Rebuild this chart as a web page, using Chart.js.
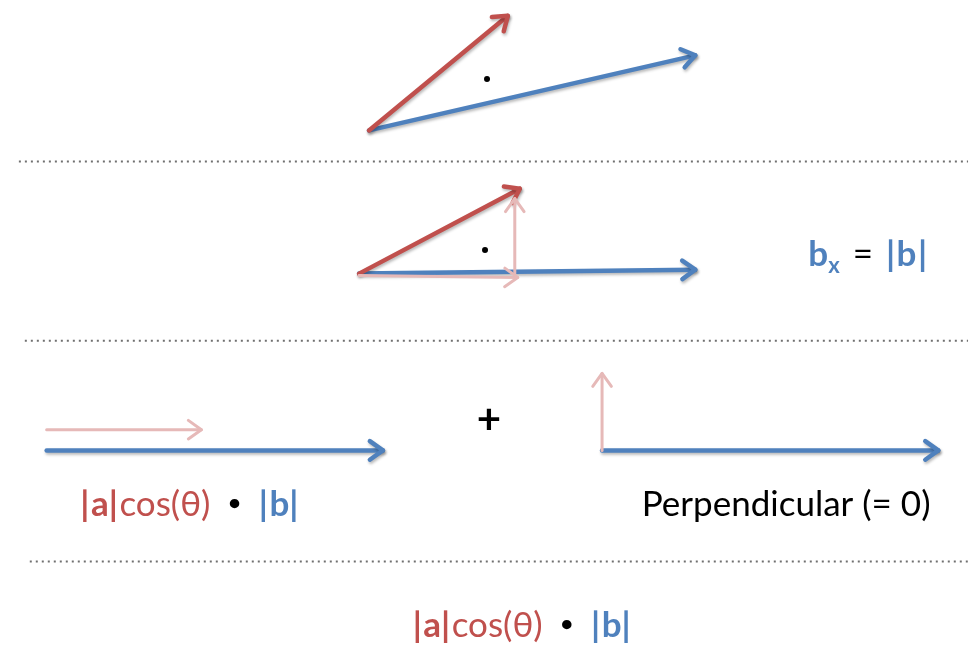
<!DOCTYPE html>
<html><head><meta charset="utf-8">
<script src="https://cdn.jsdelivr.net/npm/chart.js@4.4.1/dist/chart.umd.min.js"></script>
<style>html,body{margin:0;padding:0;background:#fff}#wrap{width:977px;height:647px;position:relative}</style>
</head><body><div id="wrap"><canvas id="c"></canvas></div>
<script>
// ---- data (diagram space: x right, y down, same extent as the picture) ----
const vecTopA      = [{x:368,y:128},{x:508,y:12}];
const vecTopB      = [{x:368,y:128},{x:697,y:52}];
const vecMidApar   = [{x:358,y:275},{x:518,y:277}];
const vecMidAperp  = [{x:515,y:275},{x:515,y:197}];
const vecMidA      = [{x:358,y:273},{x:520,y:187}];
const vecMidB      = [{x:358,y:273},{x:697,y:269}];
const vecLeftApar  = [{x:43,y:431},{x:199,y:431}];
const vecLeftB     = [{x:43,y:452},{x:382,y:452}];
const vecRightAperp= [{x:603,y:452},{x:603,y:374}];
const vecRightB    = [{x:603,y:452},{x:942,y:452}];
const anglePoints  = [{x:487,y:76},{x:485,y:249}];
const separators   = [[{x:15,y:159.5},{x:972,y:159.5}],[{x:21,y:341},{x:972,y:341}],[{x:26,y:564.5},{x:975,y:564.5}]];
const formula      = [['|','a',true],['a','a',true],['|','a',true],['cos(θ)','a',false],['  ','k',false],['•','k',true,0.62],['  ','k',false],['|','b',true],['b','b',true],['|','b',true]];
const perpLabel    = 'Perpendicular (= 0)';
const plusLabel    = '+';

// ---- styles ----
const RED='#c0504d', BLUE='#4f81bd', PINK='#e6b9b8', GREY='#707070';
const roleColor={a:RED,b:BLUE,k:'#000'};
const FONT='Lato, "Open Sans", "DejaVu Sans", sans-serif';

function arrow(data,color,w,shadow){
  return {data,showLine:true,borderColor:color,backgroundColor:color,borderWidth:w,pointRadius:0,
    borderCapStyle:'round',arrow:true,shadow:shadow,headLen:16};
}
const datasets=[];
separators.forEach(s=>datasets.push({data:s,showLine:true,borderColor:GREY,borderWidth:2,borderDash:[2,4],pointRadius:0}));
datasets.push(arrow(vecTopA,RED,4.5,true));
datasets.push(arrow(vecTopB,BLUE,4.5,true));
datasets.push(arrow(vecMidApar,PINK,3,false));
datasets.push(arrow(vecMidAperp,PINK,3,false));
datasets.push(arrow(vecMidA,RED,4.5,true));
datasets.push(arrow(vecMidB,BLUE,4.5,true));
datasets.push(arrow(vecLeftApar,PINK,3,false));
datasets.push(arrow(vecLeftB,BLUE,4.5,true));
datasets.push(arrow(vecRightAperp,PINK,3,false));
datasets.push(arrow(vecRightB,BLUE,4.5,true));
datasets.push({data:anglePoints,showLine:false,pointRadius:3,pointBackgroundColor:'#000',pointBorderWidth:0});

const arrowPlugin={
  id:'arrows',
  beforeDatasetDraw(chart,args){
    const ds=chart.data.datasets[args.index];const ctx=chart.ctx;ctx.save();
    if(ds.shadow){ctx.shadowColor='rgba(0,0,0,0.28)';ctx.shadowBlur=3;ctx.shadowOffsetX=1;ctx.shadowOffsetY=2;}
  },
  afterDatasetDraw(chart,args){
    const ds=chart.data.datasets[args.index];const ctx=chart.ctx;
    if(ds.arrow){
      const pts=args.meta.data;const p0=pts[pts.length-2],p1=pts[pts.length-1];
      const ang=Math.atan2(p1.y-p0.y,p1.x-p0.x);const L=ds.headLen,s=0.62;
      ctx.strokeStyle=ds.borderColor;ctx.lineWidth=ds.borderWidth;ctx.lineCap='round';ctx.lineJoin='round';
      ctx.beginPath();
      ctx.moveTo(p1.x-L*Math.cos(ang-s),p1.y-L*Math.sin(ang-s));
      ctx.lineTo(p1.x,p1.y);
      ctx.lineTo(p1.x-L*Math.cos(ang+s),p1.y-L*Math.sin(ang+s));
      ctx.stroke();
    }
    ctx.restore();
  }
};

function drawRich(ctx,segs,x,y,size){
  ctx.textBaseline='alphabetic';ctx.textAlign='left';
  segs.forEach(([t,role,bold,scale])=>{
    const sz=size*(scale||1);
    ctx.font=(bold?'bold ':'')+sz+'px '+FONT;ctx.fillStyle=roleColor[role];
    ctx.fillText(t,x,scale?y-size*0.17:y);x+=ctx.measureText(t).width+(t==='|'?1.5:0);
  });
}
const textPlugin={
  id:'texts',
  afterDraw(chart){
    const ctx=chart.ctx,sx=chart.scales.x,sy=chart.scales.y;ctx.save();
    drawRich(ctx,formula,sx.getPixelForValue(77),sy.getPixelForValue(518),35);
    drawRich(ctx,formula,sx.getPixelForValue(412),sy.getPixelForValue(641),35);
    ctx.font='35px '+FONT;ctx.fillStyle='#000';ctx.fillText(perpLabel,sx.getPixelForValue(643),sy.getPixelForValue(518));
    ctx.textAlign='center';ctx.font='bold 42px '+FONT;ctx.fillText(plusLabel,sx.getPixelForValue(489),sy.getPixelForValue(435));
    // b_x = |b|
    ctx.textAlign='left';let x=sx.getPixelForValue(811);const y=sy.getPixelForValue(265);
    ctx.font='bold 35px '+FONT;ctx.fillStyle=BLUE;ctx.fillText('b',x,y);x+=ctx.measureText('b').width;
    ctx.font='bold 22px '+FONT;ctx.fillText('x',x,y+7);x+=ctx.measureText('x').width+4;
    ctx.font='35px '+FONT;ctx.fillStyle='#000';ctx.fillText(' = ',x,y);x+=ctx.measureText(' = ').width+4;
    ctx.font='bold 35px '+FONT;ctx.fillStyle=BLUE;
    ['|','b','|'].forEach(t=>{ctx.fillText(t,x,y);x+=ctx.measureText(t).width+1.5;});
    ctx.restore();
  }
};

new Chart(document.getElementById('c'),{
  type:'scatter',
  data:{datasets},
  options:{
    responsive:true,maintainAspectRatio:false,animation:false,
    layout:{padding:0},
    plugins:{legend:{display:false},tooltip:{enabled:false}},
    scales:{
      x:{type:'linear',min:0,max:977,display:false},
      y:{type:'linear',min:0,max:647,reverse:true,display:false}
    }
  },
  plugins:[arrowPlugin,textPlugin]
});
</script></body></html>
